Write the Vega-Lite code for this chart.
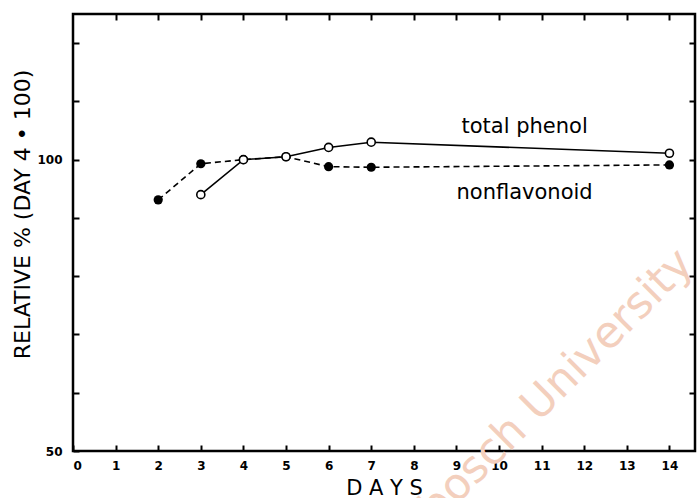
{
  "$schema": "https://vega.github.io/schema/vega-lite/v6.json",
  "width": 622,
  "height": 437,
  "autosize": {"type": "none"},
  "padding": {"left": 73, "top": 14, "right": 2, "bottom": 47},
  "background": "white",
  "config": {
    "view": {"stroke": "black", "strokeWidth": 2.5},
    "font": "DejaVu Sans",
    "axis": {
      "domain": false,
      "grid": false,
      "tickColor": "black",
      "tickWidth": 2,
      "tickSize": -6,
      "labelColor": "black",
      "labelFont": "DejaVu Sans",
      "labelFontWeight": "bold",
      "labelFontSize": 12,
      "titleColor": "black",
      "titleFont": "DejaVu Sans",
      "titleFontWeight": "normal"
    }
  },
  "datasets": {
    "series": [
      {"day": 2, "value": 93.1, "series": "nonflavonoid"},
      {"day": 3, "value": 99.3, "series": "nonflavonoid"},
      {"day": 4, "value": 100.0, "series": "nonflavonoid"},
      {"day": 5, "value": 100.5, "series": "nonflavonoid"},
      {"day": 6, "value": 98.8, "series": "nonflavonoid"},
      {"day": 7, "value": 98.7, "series": "nonflavonoid"},
      {"day": 14, "value": 99.1, "series": "nonflavonoid"},
      {"day": 3, "value": 94.0, "series": "total phenol"},
      {"day": 4, "value": 100.0, "series": "total phenol"},
      {"day": 5, "value": 100.5, "series": "total phenol"},
      {"day": 6, "value": 102.1, "series": "total phenol"},
      {"day": 7, "value": 103.0, "series": "total phenol"},
      {"day": 14, "value": 101.1, "series": "total phenol"}
    ],
    "labels": [
      {"day": 10.6, "value": 105.6, "text": "total phenol"},
      {"day": 10.6, "value": 94.2, "text": "nonflavonoid"}
    ],
    "wm": [
      {"day": 10.1, "value": 51.9, "text": "Stellenbosch University"}
    ]
  },
  "layer": [
    {
      "data": {"name": "wm"},
      "mark": {"type": "text", "angle": -45, "font": "DejaVu Sans", "fontSize": 44, "color": "#f3cfbd", "align": "center", "baseline": "middle"},
      "encoding": {
        "x": {"field": "day", "type": "quantitative", "scale": {"domain": [0, 14.6], "nice": false, "zero": false}, "axis": null},
        "y": {"field": "value", "type": "quantitative", "scale": {"domain": [50, 125], "nice": false, "zero": false}, "axis": null},
        "text": {"field": "text"}
      }
    },
    {
      "data": {"name": "series"},
      "transform": [{"filter": "datum.series == 'nonflavonoid'"}],
      "mark": {"type": "line", "color": "black", "strokeWidth": 1.6, "strokeDash": [6, 4]},
      "encoding": {
        "x": {"field": "day", "type": "quantitative", "scale": {"domain": [0, 14.6], "nice": false, "zero": false},
          "axis": {"orient": "bottom", "values": [0,1,2,3,4,5,6,7,8,9,10,11,12,13,14], "labelPadding": 15, "title": "D A Y S", "titleFontSize": 21, "titleY": 43, "titleBaseline": "alphabetic"}},
        "y": {"field": "value", "type": "quantitative", "scale": {"domain": [50, 125], "nice": false, "zero": false},
          "axis": {"orient": "left", "values": [50,60,70,80,90,100,110,120], "labelPadding": 17, "labelExpr": "datum.value == 100 || datum.value == 50 ? datum.label : ''", "title": "RELATIVE  %  (DAY 4 • 100)", "titleFontSize": 22, "titleX": -51, "titleY": 200, "titleBaseline": "middle", "titleAngle": -90}}
      }
    },
    {
      "data": {"name": "series"},
      "transform": [{"filter": "datum.series == 'total phenol'"}],
      "mark": {"type": "line", "color": "black", "strokeWidth": 1.6},
      "encoding": {
        "x": {"field": "day", "type": "quantitative", "scale": {"domain": [0, 14.6], "nice": false, "zero": false},
          "axis": {"orient": "top", "values": [1,2,3,4,5,6,7,8,9,10,11,12,13,14], "labels": false, "title": null}},
        "y": {"field": "value", "type": "quantitative", "scale": {"domain": [50, 125], "nice": false, "zero": false},
          "axis": {"orient": "right", "values": [60,70,80,90,100,110,120], "labels": false, "title": null}}
      }
    },
    {
      "data": {"name": "series"},
      "transform": [{"filter": "datum.series == 'nonflavonoid'"}],
      "mark": {"type": "point", "shape": "circle", "filled": true, "color": "black", "size": 85, "opacity": 1},
      "encoding": {
        "x": {"field": "day", "type": "quantitative", "axis": null},
        "y": {"field": "value", "type": "quantitative", "axis": null}
      }
    },
    {
      "data": {"name": "series"},
      "transform": [{"filter": "datum.series == 'total phenol'"}],
      "mark": {"type": "point", "shape": "circle", "filled": true, "fill": "white", "stroke": "black", "strokeWidth": 1.6, "size": 65, "opacity": 1},
      "encoding": {
        "x": {"field": "day", "type": "quantitative", "axis": null},
        "y": {"field": "value", "type": "quantitative", "axis": null}
      }
    },
    {
      "data": {"name": "labels"},
      "mark": {"type": "text", "font": "DejaVu Sans", "fontSize": 21, "color": "black", "align": "center", "baseline": "middle"},
      "encoding": {
        "x": {"field": "day", "type": "quantitative", "axis": null},
        "y": {"field": "value", "type": "quantitative", "axis": null},
        "text": {"field": "text"}
      }
    }
  ],
  "resolve": {"axis": {"x": "independent", "y": "independent"}}
}
